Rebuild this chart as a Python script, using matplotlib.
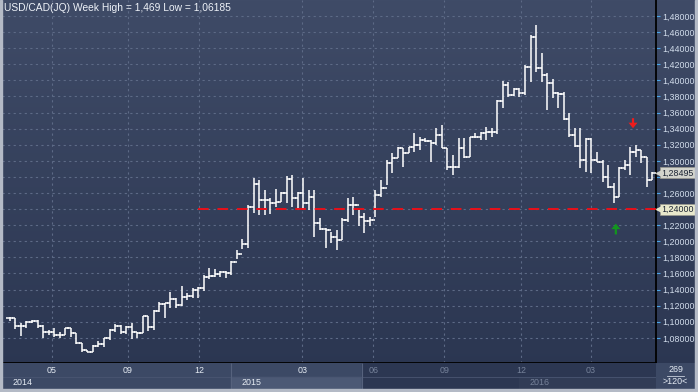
import matplotlib.pyplot as plt
import matplotlib.colors as mcolors
from matplotlib.patches import Rectangle
import numpy as np

plt.rcParams['font.family'] = ['Liberation Sans', 'DejaVu Sans']

# ── data: USD/CAD weekly bars, first bar = week of 28 Mar 2014 ───────────────
first_open = 1.1050
highs = [1.1060, 1.1045, 1.0980, 1.1013, 1.1021, 1.1021, 1.0959, 1.0897, 1.0926, 1.0876,
         1.0926, 1.0926, 1.0855, 1.0731, 1.0648, 1.0710, 1.0760, 1.0801, 1.0909, 1.0967,
         1.0959, 1.0950, 1.0980, 1.0876, 1.1075, 1.1075, 1.1145, 1.1249, 1.1237, 1.1373,
         1.1290, 1.1444, 1.1360, 1.1415, 1.1436, 1.1581, 1.1663, 1.1651, 1.1634, 1.1630,
         1.1755, 1.1891, 1.2024, 1.2451, 1.2782, 1.2761, 1.2637, 1.2534, 1.2645, 1.2616,
         1.2811, 1.2824, 1.2616, 1.2782, 1.2637, 1.2637, 1.2285, 1.2161, 1.2119, 1.2140,
         1.2285, 1.2534, 1.2554, 1.2389, 1.2347, 1.2306, 1.2637, 1.2762, 1.3010, 1.3093,
         1.3176, 1.3160, 1.3176, 1.3342, 1.3300, 1.3280, 1.3260, 1.3404, 1.3445, 1.3163,
         1.3072, 1.3280, 1.3280, 1.3300, 1.3342, 1.3362, 1.3425, 1.3404, 1.3760, 1.3993,
         1.3984, 1.3900, 1.3900, 1.4192, 1.4564, 1.4689, 1.4337, 1.4088, 1.4017, 1.3860,
         1.3860, 1.3591, 1.3404, 1.3404, 1.3280, 1.3280, 1.3114, 1.3011, 1.2949, 1.2721,
         1.2928, 1.3011, 1.3177, 1.3198, 1.3135, 1.3053, 1.2860]
lows = [1.1010, 1.0909, 1.0826, 1.0917, 1.0980, 1.0917, 1.0793, 1.0835, 1.0814, 1.0801,
        1.0835, 1.0814, 1.0719, 1.0619, 1.0620, 1.0618, 1.0690, 1.0690, 1.0772, 1.0876,
        1.0843, 1.0847, 1.0785, 1.0801, 1.0855, 1.0890, 1.0900, 1.1125, 1.1050, 1.1166,
        1.1166, 1.1200, 1.1270, 1.1291, 1.1291, 1.1386, 1.1527, 1.1560, 1.1560, 1.1539,
        1.1580, 1.1775, 1.1900, 1.1912, 1.2347, 1.2326, 1.2326, 1.2339, 1.2430, 1.2492,
        1.2471, 1.2430, 1.2388, 1.2388, 1.2388, 1.2057, 1.2140, 1.1912, 1.1974, 1.1892,
        1.2016, 1.2244, 1.2327, 1.2190, 1.2107, 1.2190, 1.2306, 1.2554, 1.2700, 1.2845,
        1.3031, 1.2927, 1.3093, 1.3114, 1.3134, 1.3238, 1.2990, 1.3197, 1.3155, 1.2886,
        1.2824, 1.2907, 1.3031, 1.3052, 1.3280, 1.3259, 1.3259, 1.3300, 1.3330, 1.3661,
        1.3798, 1.3800, 1.3798, 1.3819, 1.3984, 1.4109, 1.3984, 1.3632, 1.3785, 1.3653,
        1.3508, 1.3301, 1.3176, 1.2907, 1.2866, 1.2845, 1.2990, 1.2741, 1.2658, 1.2472,
        1.2555, 1.2887, 1.2825, 1.3053, 1.2970, 1.2680, 1.2763]
closes = [1.1042, 1.0951, 1.0951, 1.1000, 1.1013, 1.0951, 1.0868, 1.0876, 1.0835, 1.0835,
          1.0917, 1.0855, 1.0731, 1.0648, 1.0627, 1.0702, 1.0719, 1.0793, 1.0897, 1.0951,
          1.0868, 1.0938, 1.0868, 1.0855, 1.1071, 1.0938, 1.1133, 1.1216, 1.1228, 1.1282,
          1.1208, 1.1303, 1.1320, 1.1394, 1.1423, 1.1560, 1.1568, 1.1589, 1.1614, 1.1610,
          1.1746, 1.1842, 1.1962, 1.2430, 1.2712, 1.2513, 1.2513, 1.2480, 1.2492, 1.2596,
          1.2770, 1.2534, 1.2596, 1.2471, 1.2554, 1.2231, 1.2153, 1.2140, 1.2049, 1.2016,
          1.2265, 1.2451, 1.2451, 1.2306, 1.2252, 1.2270, 1.2571, 1.2658, 1.2969, 1.3031,
          1.3155, 1.3093, 1.3176, 1.3197, 1.3259, 1.3250, 1.3217, 1.3321, 1.3155, 1.2927,
          1.2927, 1.3155, 1.3052, 1.3300, 1.3300, 1.3342, 1.3362, 1.3362, 1.3744, 1.3943,
          1.3819, 1.3893, 1.3839, 1.4171, 1.4544, 1.4150, 1.4067, 1.3964, 1.3839, 1.3830,
          1.3520, 1.3321, 1.3185, 1.3011, 1.3272, 1.3011, 1.2990, 1.2804, 1.2679, 1.2555,
          1.2915, 1.2949, 1.3115, 1.3135, 1.3053, 1.2763, 1.2850]

month_pos = [7.6, 21.3, 34.2, 52.8, 65.6, 78.4, 92.3, 104.9]
month_labels = ['05', '09', '12', '03', '06', '09', '12', '03']
year_pos = [-1.4, 39.9, 91.9]
year_labels = ['2014', '2015', '2016']
price_ticks = np.round(np.arange(1.08, 1.4801, 0.02), 2)

support = 1.24
last_price = 1.28495
sell_arrow = (112.5, 1.3530, 1.3405)   # x, tail, tip
buy_arrow = (109.4, 1.2085, 1.2220)
scroll_start = 63.6                     # start of the greyed part of the time strip

W, H = 698, 392
XLIM = (-1.41, 116.65)
YLIM = (1.0487, 1.4999)

fig = plt.figure(figsize=(W / 100, H / 100), dpi=100)

# background gradient
bg = fig.add_axes([0, 0, 1, 1], zorder=-5)
grad = np.linspace(0, 1, 256).reshape(-1, 1)
cmap = mcolors.LinearSegmentedColormap.from_list('bg', ['#3f4b67', '#2a3550'])
bg.imshow(grad, aspect='auto', cmap=cmap, extent=[0, 1, 0, 1])
bg.set_axis_off()

# ── main price panel ─────────────────────────────────────────────────────────
ax = fig.add_axes([2 / W, (H - 363) / H, 654 / W, 363 / H])
ax.patch.set_alpha(0)
ax.set_xlim(*XLIM)
ax.set_ylim(*YLIM)

idx = np.arange(len(closes))
opens = [first_open] + closes[:-1]
ax.vlines(idx, lows, highs, color='white', lw=1.1, zorder=3)
ax.hlines(opens, idx - 0.6, idx, color='white', lw=1.1, zorder=3)
ax.hlines(closes, idx, idx + 0.6, color='white', lw=1.1, zorder=3)

# labels hidden behind the price tags are left blank
hidden = {support, 1.28}
ax.set_yticks(price_ticks)
ax.set_yticklabels(['' if v in hidden else f'{v:.5f}'.replace('.', ',')
                    for v in price_ticks])
ax.yaxis.tick_right()
ax.tick_params(axis='y', length=3, width=0.8, color='#4aa6e8', pad=1.5,
               labelsize=6.4, labelcolor='#d2ddec')
ax.set_xticks(month_pos)
ax.tick_params(axis='x', length=0, labelbottom=False)
ax.grid(True, color='#5d6a86', lw=0.8, linestyle=(0, (2, 3)))

for s in ['left', 'top']:
    ax.spines[s].set_visible(False)
ax.spines['right'].set_color('black')
ax.spines['right'].set_linewidth(1.3)
ax.spines['bottom'].set_color('black')
ax.spines['bottom'].set_linewidth(1.3)

# support line
ax.hlines(support, 34.0, XLIM[1], color='#e8101a', lw=1.4,
          linestyles=(0, (5.5, 4.5)), zorder=4)

# price tags on the right axis
def tag(y, text, face):
    ax.annotate(text, xy=(1.0, y), xycoords=('axes fraction', 'data'),
                xytext=(4, 0), textcoords='offset points', ha='left', va='center',
                fontsize=6.4, color='#1c2434', zorder=10, annotation_clip=False,
                bbox=dict(boxstyle='square,pad=0.12', fc=face, ec='#9a9a90', lw=0.5))
    ax.plot([1.0 + 2.5 / 654], [y], marker='<', ms=4.5, color=face,
            transform=ax.get_yaxis_transform(), clip_on=False, zorder=10)

tag(last_price, '1,28495', '#d2d3cc')
tag(support, '1,24000', '#e8e8cc')

# signal arrows
for (x, tail, tip), col in [(sell_arrow, '#ee1c1c'), (buy_arrow, '#12961e')]:
    ax.annotate('', xy=(x, tip), xytext=(x, tail),
                arrowprops=dict(width=1.6, headwidth=6.5, headlength=4.0,
                                shrink=0, color=col, lw=0), zorder=6)

fig.text(4 / W, 1 - 8 / H, 'USD/CAD(JQ) Week High = 1,469 Low = 1,06185',
         fontsize=7.4, color='#eef2f8', va='center', ha='left')

# ── time strip ───────────────────────────────────────────────────────────────
st = fig.add_axes([2 / W, 3 / H, 654 / W, 26 / H])
st.set_xlim(*XLIM)
st.set_ylim(0, 2)
st.set_axis_off()
st.add_patch(Rectangle((XLIM[0], 0), XLIM[1] - XLIM[0], 2, color='#3c4965', zorder=0))
st.add_patch(Rectangle((year_pos[1], 0), year_pos[2] - year_pos[1], 0.95,
                       color='#4c5975', zorder=1))
st.add_patch(Rectangle((scroll_start, 0), XLIM[1] - scroll_start, 2,
                       color='#2c3752', zorder=2))
st.add_patch(Rectangle((year_pos[2], 0), XLIM[1] - year_pos[2], 0.95,
                       color='#313c56', zorder=2))
st.axhline(0.95, color='#4a5672', lw=0.6, zorder=3)
st.vlines([year_pos[1]], 0, 2, color='#56627d', lw=0.8, zorder=3)
st.vlines([scroll_start], 0, 2, color='#56627d', lw=0.8, zorder=3)
for p, lab in zip(month_pos, month_labels):
    c = '#e6ecf4' if p < scroll_start else '#76829a'
    st.text(p, 1.45, lab, ha='center', va='center', fontsize=6.4, color=c, zorder=4)
for p, lab in zip(year_pos, year_labels):
    c = '#e6ecf4' if p < scroll_start else '#76829a'
    st.text(p + 1.9, 0.47, lab, ha='left', va='center', fontsize=6.4, color=c, zorder=4)

# corner box
cb = fig.add_axes([656 / W, 3 / H, 39 / W, 26 / H])
cb.set_xlim(0, 1)
cb.set_ylim(0, 1)
cb.set_axis_off()
cb.add_patch(Rectangle((0, 0), 1, 1, color='#3c4965'))
cb.text(0.5, 0.74, '269', ha='center', va='center', fontsize=6.4, color='#e6ecf4')
cb.plot([0.27, 0.73], [0.5, 0.5], color='#c8d0dc', lw=0.6)
cb.text(0.5, 0.27, '>120<', ha='center', va='center', fontsize=6.4, color='#e6ecf4')

# light window border
for r in [(0, 0, 2, H), (0, 0, W, 3), (W - 3, 0, 3, H)]:
    fig.patches.append(Rectangle((r[0] / W, r[1] / H), r[2] / W, r[3] / H,
                                 transform=fig.transFigure, color='#b4bac6', zorder=20))

fig.savefig('out.png', dpi=100)
